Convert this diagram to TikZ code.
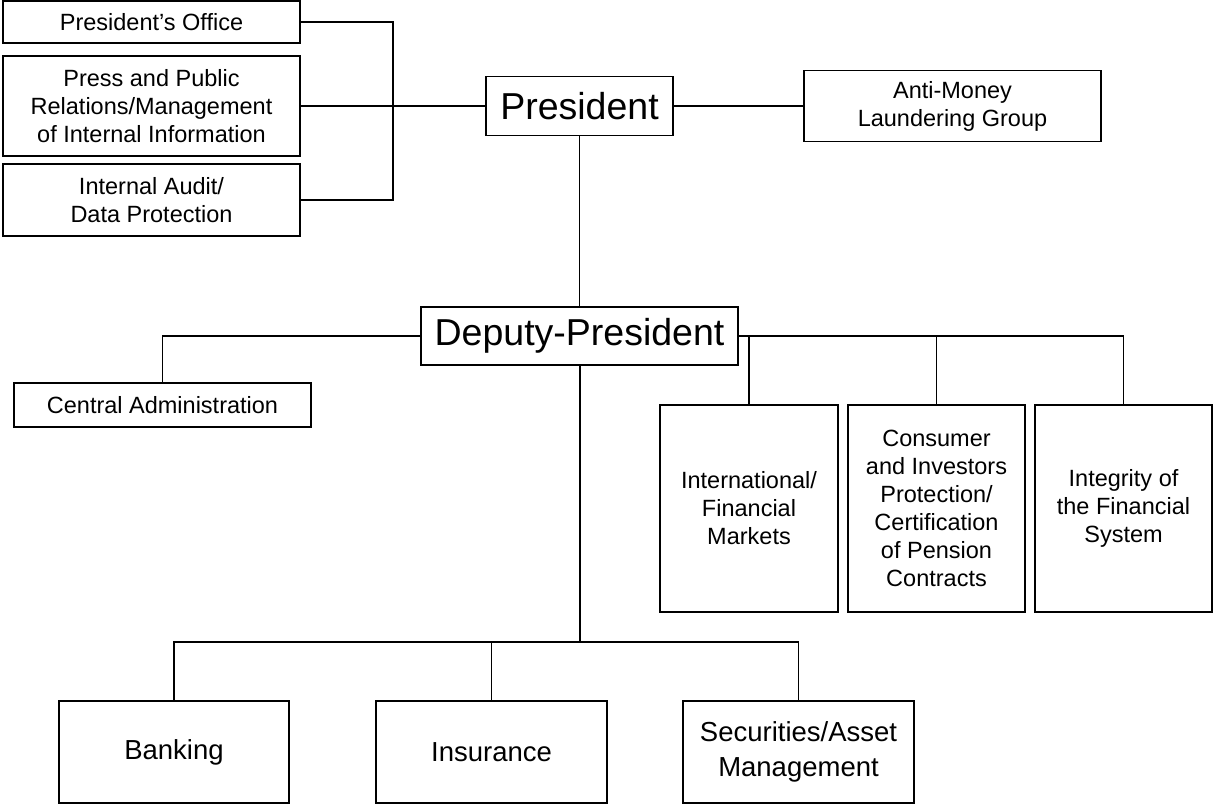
\documentclass[tikz,border=0pt]{standalone}
\usepackage{fontspec}
\setmainfont{Liberation Sans}
\tikzset{
  unit/.style={draw, line width=1.2pt, align=center, inner sep=2pt, outer sep=0pt,
    font=\fontsize{23.5}{28}\selectfont},
  head/.style={unit, font=\fontsize{37.5}{44}\selectfont},
  branch/.style={unit, font=\fontsize{27.5}{35}\selectfont},
  link/.style={line width=1.2pt},
  trunk/.style={line width=2pt}
}
\begin{document}
\begin{tikzpicture}[x=1pt, y=-1pt]
            \useasboundingbox (0,0) rectangle (1213,805);
            % staff units
            \node[unit, anchor=center, minimum width=297, minimum height=42] at (151.5,22) (po) {President's Office};
            \node[unit, anchor=center, minimum width=297, minimum height=100] at (151.5,106) (press) {Press and Public\\Relations/Management\\of Internal Information};
            \node[unit, anchor=center, minimum width=297, minimum height=72] at (151.5,200) (audit) {Internal Audit/\\Data Protection};
            \node[head, anchor=center, minimum width=187, minimum height=59] at (579.5,106) (pres) {President};
            \node[unit, anchor=center, minimum width=297, minimum height=71] at (952.5,106) (aml) {Anti-Money\\Laundering Group};
            \node[head, anchor=center, minimum width=317, minimum height=58] at (579.5,336) (dep) {Deputy-President};
            \node[unit, anchor=center, minimum width=297, minimum height=44] at (162.5,405) (cadm) {Central Administration};
            % departments
            \node[unit, anchor=center, minimum width=178, minimum height=207] at (749,508.5) (intl) {International/\\Financial\\Markets};
            \node[unit, anchor=center, minimum width=177, minimum height=207] at (936.5,508.5) (cons) {Consumer\\and Investors\\Protection/\\Certification\\of Pension\\Contracts};
            \node[unit, anchor=center, minimum width=177, minimum height=207] at (1123.5,508.5) (integ) {Integrity of\\the Financial\\System};
            \node[branch, anchor=center, minimum width=230, minimum height=102] at (174,752) (bank) {Banking};
            \node[branch, anchor=center, minimum width=231, minimum height=102] at (491.5,752) (ins) {Insurance};
            \node[branch, anchor=center, minimum width=231, minimum height=102] at (798.5,752) (sec) {Securities/Asset\\Management};
            \coordinate (tbus) at (393,106);
            \coordinate (lbus) at (579.5,642);
            % lines
            \draw[link] (po.east) -| (tbus |- audit.east) -- (audit.east);
            \draw[link] (press.east) -- (tbus);
            \draw[trunk] (tbus) -- (pres.west);
            \draw[link] (pres.east) -- (aml.west);
            \draw[link] (pres.south) -- (dep.north);
            \draw[link] (dep.west) -| (cadm.north);
            \draw[link] (dep.east) -| (integ.north);
            \draw[link] (intl.north) -- (intl.north |- dep.east);
            \draw[link] (cons.north) -- (cons.north |- dep.east);
            \draw[trunk] (dep.south) -- (lbus) -- (ins.north |- lbus);
            \draw[link] (bank.north) |- (sec.north |- lbus) -- (sec.north);
            \draw[link] (ins.north) -- (ins.north |- lbus);
        \end{tikzpicture}
\end{document}
